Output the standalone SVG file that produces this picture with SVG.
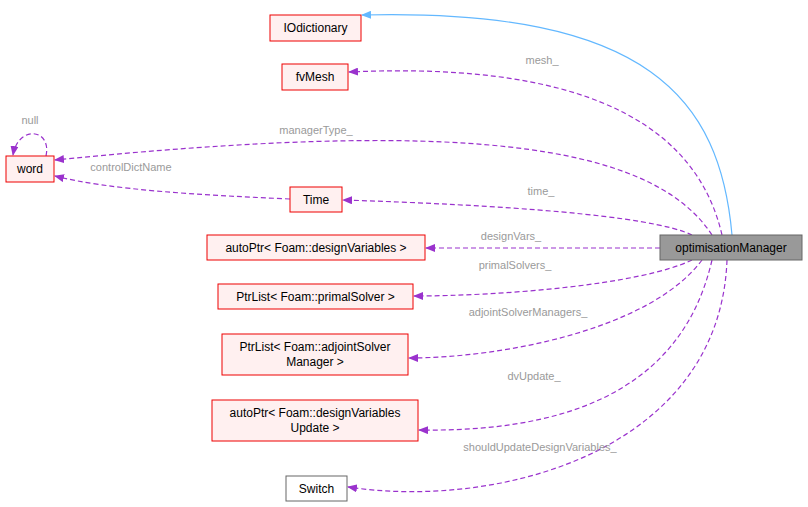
<svg xmlns="http://www.w3.org/2000/svg" width="808" height="507" viewBox="0 0 808 507">
<style>
.n rect{fill:#fff0f0;stroke:#e00;stroke-width:1}
.n text,.m text{font-family:"Liberation Sans",Arial,sans-serif;font-size:12px;fill:#000;text-anchor:middle}
.e{fill:none;stroke:#9a32cd;stroke-dasharray:5,3;stroke-width:1.2;marker-end:url(#ap)}
.l{font-family:"Liberation Sans",Arial,sans-serif;font-size:11px;fill:#9a9a9a;text-anchor:middle}
</style>
<defs>
<marker id="ap" markerWidth="10" markerHeight="8" refX="9" refY="4" orient="auto" markerUnits="userSpaceOnUse"><path d="M0,0L10,4L0,8z" fill="#9a32cd"/></marker>
<marker id="ab" markerWidth="10" markerHeight="8" refX="9" refY="4" orient="auto" markerUnits="userSpaceOnUse"><path d="M0,0L10,4L0,8z" fill="#63b8ff"/></marker>
</defs>
<g id="edges">
<path d="M732,235 C720,100 650,8 362,15" fill="none" stroke="#63b8ff" stroke-width="1.2" marker-end="url(#ab)"/>
<path class="e" d="M722,235 C700,140 610,60 349,72"/>
<text class="l" x="542" y="64">mesh_</text>
<path class="e" d="M712,235 C650,140 450,120 55,160"/>
<text class="l" x="316" y="134">managerType_</text>
<path class="e" d="M46,156 C52,128 18,125 13,155"/>
<text class="l" x="30" y="124">null</text>
<path class="e" d="M290,199 C200,195 110,190 55,176"/>
<text class="l" x="131" y="171">controlDictName</text>
<path class="e" d="M692,235 C650,215 500,205 343,200"/>
<text class="l" x="541" y="195">time_</text>
<path class="e" d="M660,248 L426,248"/>
<text class="l" x="511" y="240">designVars_</text>
<path class="e" d="M692,260 C640,285 500,296 414,296"/>
<text class="l" x="515" y="269">primalSolvers_</text>
<path class="e" d="M702,260 C650,330 500,358 409,358"/>
<text class="l" x="528" y="316">adjointSolverManagers_</text>
<path class="e" d="M712,260 C680,400 550,432 419,430"/>
<text class="l" x="534" y="380">dvUpdate_</text>
<path class="e" d="M727,260 C720,450 500,510 348,487"/>
<text class="l" x="540" y="451">shouldUpdateDesignVariables_</text>
</g>
<g id="optimisationManager" class="m"><rect x="660" y="235" width="142" height="25" fill="#999" stroke="#666"/><text x="731" y="252">optimisationManager</text></g>
<g id="IOdictionary" class="n"><rect x="270" y="15" width="91" height="26"/><text x="315.5" y="32">IOdictionary</text></g>
<g id="fvMesh" class="n"><rect x="282" y="64" width="66" height="26"/><text x="315" y="81">fvMesh</text></g>
<g id="word" class="n"><rect x="6" y="156" width="48" height="26"/><text x="30" y="173">word</text></g>
<g id="Time" class="n"><rect x="290" y="187" width="52" height="25"/><text x="316" y="204">Time</text></g>
<g id="designVariables" class="n"><rect x="207" y="235" width="218" height="25"/><text x="316" y="252">autoPtr&lt; Foam::designVariables &gt;</text></g>
<g id="primalSolver" class="n"><rect x="218" y="284" width="195" height="25"/><text x="315.5" y="301">PtrList&lt; Foam::primalSolver &gt;</text></g>
<g id="adjointSolverManager" class="n"><rect x="222" y="334" width="186" height="41"/><text x="315" y="351">PtrList&lt; Foam::adjointSolver</text><text x="315" y="366">Manager &gt;</text></g>
<g id="designVariablesUpdate" class="n"><rect x="212" y="400" width="206" height="41"/><text x="315" y="417">autoPtr&lt; Foam::designVariables</text><text x="315" y="432">Update &gt;</text></g>
<g id="Switch" class="n"><rect x="286" y="476" width="61" height="25" style="stroke:#666;fill:#fff"/><text x="316.5" y="493">Switch</text></g>
</svg>
